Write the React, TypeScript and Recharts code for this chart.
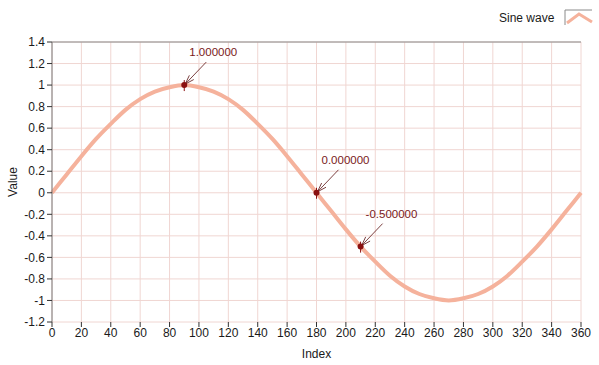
import React from 'react';
import { LineChart, Line, XAxis, YAxis, CartesianGrid, ReferenceDot, ReferenceLine, Label } from 'recharts';

// readings taken every 10 index steps off the plot
const indexValues = [
  0, 10, 20, 30, 40, 50, 60, 70, 80, 90, 100, 110, 120, 130, 140, 150, 160, 170, 180,
  190, 200, 210, 220, 230, 240, 250, 260, 270, 280, 290, 300, 310, 320, 330, 340, 350, 360,
];
const sineValues = [
  0, 0.17, 0.34, 0.5, 0.64, 0.77, 0.87, 0.94, 0.98, 1, 0.98, 0.94, 0.87, 0.77, 0.64, 0.5, 0.34, 0.17, 0,
  -0.17, -0.34, -0.5, -0.64, -0.77, -0.87, -0.94, -0.98, -1, -0.98, -0.94, -0.87, -0.77, -0.64, -0.5, -0.34, -0.17, 0,
];

const xTicks = [0, 20, 40, 60, 80, 100, 120, 140, 160, 180, 200, 220, 240, 260, 280, 300, 320, 340, 360];
const yTicks = [-1.2, -1, -0.8, -0.6, -0.4, -0.2, 0, 0.2, 0.4, 0.6, 0.8, 1, 1.2, 1.4];

const markerIndex = [90, 180, 210];
const markerValue = [1, 0, -0.5];
const markerLabels = ['1.000000', '0.000000', '-0.500000'];

const LINE_COLOR = '#f5b29c';
const MARK_COLOR = '#8a1010';
const FONT = '"Liberation Sans", Arial, sans-serif';

const data = indexValues.map((x, i) => ({ index: x, value: sineValues[i] }));

const Annotation = (label: string) => (props: any) => {
  const { cx, cy } = props;
  if (cx == null || cy == null) return <g />;
  const ax = cx + 22;
  const ay = cy - 23;
  const ang = Math.atan2(ay - cy, ax - cx);
  const head = 11;
  const spread = 0.28;
  return (
    <g>
      <line x1={ax} y1={ay} x2={cx + 1} y2={cy - 1} stroke="#5a1010" strokeWidth={0.8} />
      <line x1={cx + 1} y1={cy - 1} x2={cx + head * Math.cos(ang + spread)} y2={cy + head * Math.sin(ang + spread)} stroke="#5a1010" strokeWidth={0.8} />
      <line x1={cx + 1} y1={cy - 1} x2={cx + head * Math.cos(ang - spread)} y2={cy + head * Math.sin(ang - spread)} stroke="#5a1010" strokeWidth={0.8} />
      <line x1={cx} y1={cy - 5} x2={cx} y2={cy + 6} stroke={MARK_COLOR} strokeWidth={1} />
      <circle cx={cx} cy={cy} r={3} fill={MARK_COLOR} />
      <text x={cx + 5} y={cy - 29} fill="#7a1a1a" fontSize={11.5} fontFamily={FONT}>
        {label}
      </text>
    </g>
  );
};

const fmt = (v: number) => String(Number(v.toFixed(1)));

export default function App() {
  return (
    <div style={{ position: 'relative', width: 599, height: 365, background: '#fff' }}>
      <style>{`body{margin:0}`}</style>
      <LineChart width={599} height={365} data={data} margin={{ top: 42, right: 18, left: 8, bottom: 0 }}>
        <CartesianGrid stroke="#f0d6d2" strokeWidth={1} horizontalValues={yTicks} verticalValues={xTicks} />
        <XAxis
          dataKey="index"
          type="number"
          domain={[0, 360]}
          ticks={xTicks}
          interval={0}
          axisLine={false}
          tickSize={5}
          tickMargin={1}
          tick={{ fill: '#1a1a1a', fontSize: 12, fontFamily: FONT }}
          tickLine={{ stroke: '#333' }}
          height={43}
        >
          <Label value="Index" position="insideBottom" offset={7} fill="#1a1a1a" fontSize={12} fontFamily={FONT} />
        </XAxis>
        <YAxis
          type="number"
          domain={[-1.2, 1.4]}
          ticks={yTicks}
          interval={0}
          tickFormatter={fmt}
          width={44}
          axisLine={{ stroke: '#7a7a7a' }}
          tickSize={5}
          tickMargin={2}
          tick={{ fill: '#1a1a1a', fontSize: 12, fontFamily: FONT }}
          tickLine={{ stroke: '#333' }}
        >
          <Label value="Value" angle={-90} position="insideLeft" offset={5} fill="#1a1a1a" fontSize={12} fontFamily={FONT} style={{ textAnchor: 'middle' }} />
        </YAxis>
        <ReferenceLine y={1.4} stroke="#8a8a8a" strokeWidth={1} />
        <Line
          type="monotone"
          dataKey="value"
          stroke={LINE_COLOR}
          strokeWidth={4}
          dot={false}
          isAnimationActive={false}
        />
        {markerIndex.map((x, i) => (
          <ReferenceDot key={x} x={x} y={markerValue[i]} ifOverflow="visible" shape={Annotation(markerLabels[i])} />
        ))}
      </LineChart>
      <div style={{ position: 'absolute', left: 499, top: 9, display: 'flex', alignItems: 'center', fontFamily: FONT, fontSize: 12, color: '#1a1a1a' }}>
        <span>Sine wave</span>
        <svg width={29} height={17} style={{ marginLeft: 10 }}>
          <polyline points="1,16 1,1 28,1" fill="none" stroke="#8a8a8a" strokeWidth={1} />
          <polyline points="3,14 15,5 28,13" fill="none" stroke={LINE_COLOR} strokeWidth={3} />
        </svg>
      </div>
    </div>
  );
}
